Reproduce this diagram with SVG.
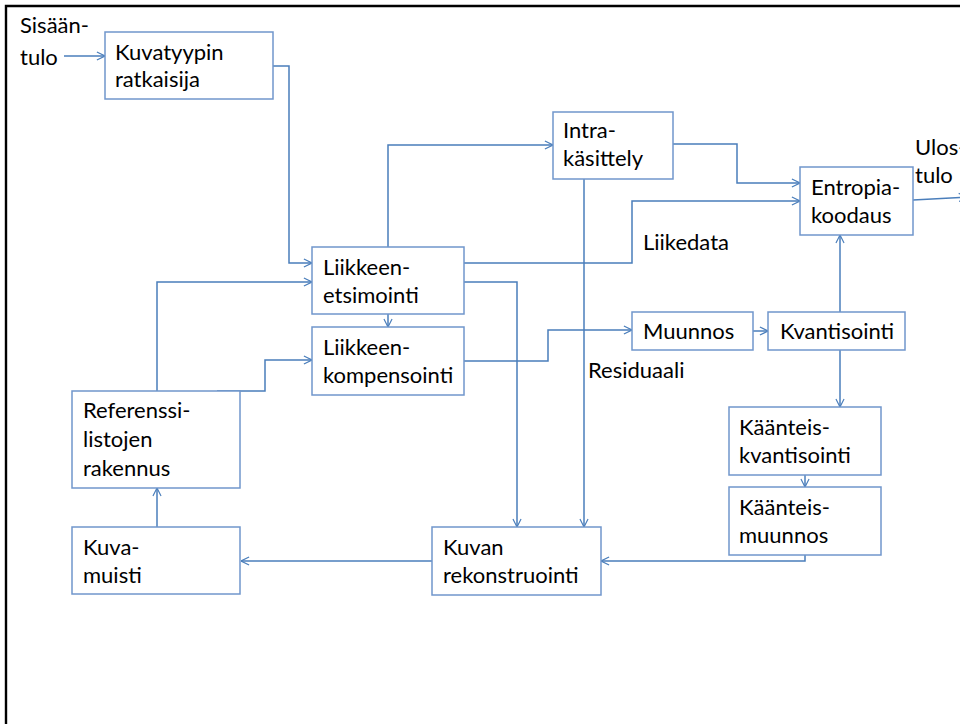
<svg xmlns="http://www.w3.org/2000/svg" width="960" height="724" viewBox="0 0 960 724">
  <style>
    .box { fill: #ffffff; stroke: #7096cc; stroke-width: 1.5; }
    .lbl { font-family: Lato, "Open Sans", "Liberation Sans", sans-serif; font-size: 22px; fill: #000000; }
    .wire { fill: none; stroke: #4a7ebb; stroke-width: 1.5; }
  </style>
  <defs>
    <marker id="arr" viewBox="0 0 10 10" refX="9.5" refY="5" markerWidth="9" markerHeight="10" markerUnits="userSpaceOnUse" orient="auto">
      <path d="M0.5,0.5 L9.5,5 L0.5,9.5" fill="none" stroke="#4a7ebb" stroke-width="1.3"/>
    </marker>
  </defs>

  <rect width="960" height="724" fill="#ffffff"/>
  <!-- page frame -->
  <path d="M6,724 V6 H960" fill="none" stroke="#000000" stroke-width="2.4"/>

  <!-- free labels -->
  <text class="lbl" x="20" y="33">Sisään-</text>
  <text class="lbl" x="20" y="65">tulo</text>
  <text class="lbl" x="915" y="155">Ulos-</text>
  <text class="lbl" x="915" y="183">tulo</text>
  <text class="lbl" x="643" y="250">Liikedata</text>
  <text class="lbl" x="588" y="378">Residuaali</text>

  <g id="connectors">
    <path class="wire" d="M64,56 H105" marker-end="url(#arr)"/>
    <path class="wire" d="M273,66 H289 V263 H312" marker-end="url(#arr)"/>
    <path class="wire" d="M157,391 V282 H312" marker-end="url(#arr)"/>
    <path class="wire" d="M217,391 H265 V360 H312" marker-end="url(#arr)"/>
    <path class="wire" d="M388,314 V327" marker-end="url(#arr)"/>
    <path class="wire" d="M388,247 V145 H553" marker-end="url(#arr)"/>
    <path class="wire" d="M673,144 H737 V183 H800" marker-end="url(#arr)"/>
    <path class="wire" d="M464,263 H632 V201 H800" marker-end="url(#arr)"/>
    <path class="wire" d="M913,200 L967,197" marker-end="url(#arr)"/>
    <path class="wire" d="M464,282 H517 V527" marker-end="url(#arr)"/>
    <path class="wire" d="M584,179 V527" marker-end="url(#arr)"/>
    <path class="wire" d="M464,361 H548 V330 H632" marker-end="url(#arr)"/>
    <path class="wire" d="M753,331 H768" marker-end="url(#arr)"/>
    <path class="wire" d="M840,312 V235" marker-end="url(#arr)"/>
    <path class="wire" d="M840,350 V407" marker-end="url(#arr)"/>
    <path class="wire" d="M805,475 V487" marker-end="url(#arr)"/>
    <path class="wire" d="M805,555 V561 H601" marker-end="url(#arr)"/>
    <path class="wire" d="M432,561 H241" marker-end="url(#arr)"/>
    <path class="wire" d="M157,527 V488" marker-end="url(#arr)"/>
  </g>

  <g id="kuvatyypin-ratkaisija">
    <rect class="box" x="105" y="32" width="168" height="67"/>
    <text class="lbl" x="115" y="60">Kuvatyypin</text>
    <text class="lbl" x="115" y="87">ratkaisija</text>
  </g>
  <g id="intra-kasittely">
    <rect class="box" x="553" y="112" width="120" height="67"/>
    <text class="lbl" x="563" y="138">Intra-</text>
    <text class="lbl" x="563" y="166">käsittely</text>
  </g>
  <g id="entropiakoodaus">
    <rect class="box" x="800" y="167" width="113" height="68"/>
    <text class="lbl" x="811" y="195">Entropia-</text>
    <text class="lbl" x="811" y="223">koodaus</text>
  </g>
  <g id="liikkeen-etsimointi">
    <rect class="box" x="312" y="247" width="152" height="67"/>
    <text class="lbl" x="323" y="275">Liikkeen-</text>
    <text class="lbl" x="323" y="303">etsimointi</text>
  </g>
  <g id="liikkeen-kompensointi">
    <rect class="box" x="312" y="327" width="152" height="68"/>
    <text class="lbl" x="323" y="355">Liikkeen-</text>
    <text class="lbl" x="323" y="383">kompensointi</text>
  </g>
  <g id="muunnos">
    <rect class="box" x="632" y="312" width="121" height="38"/>
    <text class="lbl" x="643" y="339">Muunnos</text>
  </g>
  <g id="kvantisointi">
    <rect class="box" x="768" y="312" width="137" height="38"/>
    <text class="lbl" x="780" y="339">Kvantisointi</text>
  </g>
  <g id="kaanteiskvantisointi">
    <rect class="box" x="729" y="407" width="152" height="68"/>
    <text class="lbl" x="739" y="435">Käänteis-</text>
    <text class="lbl" x="739" y="463">kvantisointi</text>
  </g>
  <g id="kaanteismuunnos">
    <rect class="box" x="729" y="487" width="152" height="68"/>
    <text class="lbl" x="739" y="515">Käänteis-</text>
    <text class="lbl" x="739" y="543">muunnos</text>
  </g>
  <g id="referenssilistojen-rakennus">
    <rect class="box" x="72" y="391" width="168" height="97"/>
    <text class="lbl" x="83" y="418">Referenssi-</text>
    <text class="lbl" x="83" y="447">listojen</text>
    <text class="lbl" x="83" y="476">rakennus</text>
  </g>
  <g id="kuvamuisti">
    <rect class="box" x="72" y="527" width="168" height="67"/>
    <text class="lbl" x="83" y="555">Kuva-</text>
    <text class="lbl" x="83" y="583">muisti</text>
  </g>
  <g id="kuvan-rekonstruointi">
    <rect class="box" x="432" y="527" width="169" height="68"/>
    <text class="lbl" x="443" y="555">Kuvan</text>
    <text class="lbl" x="443" y="583">rekonstruointi</text>
  </g>
</svg>
